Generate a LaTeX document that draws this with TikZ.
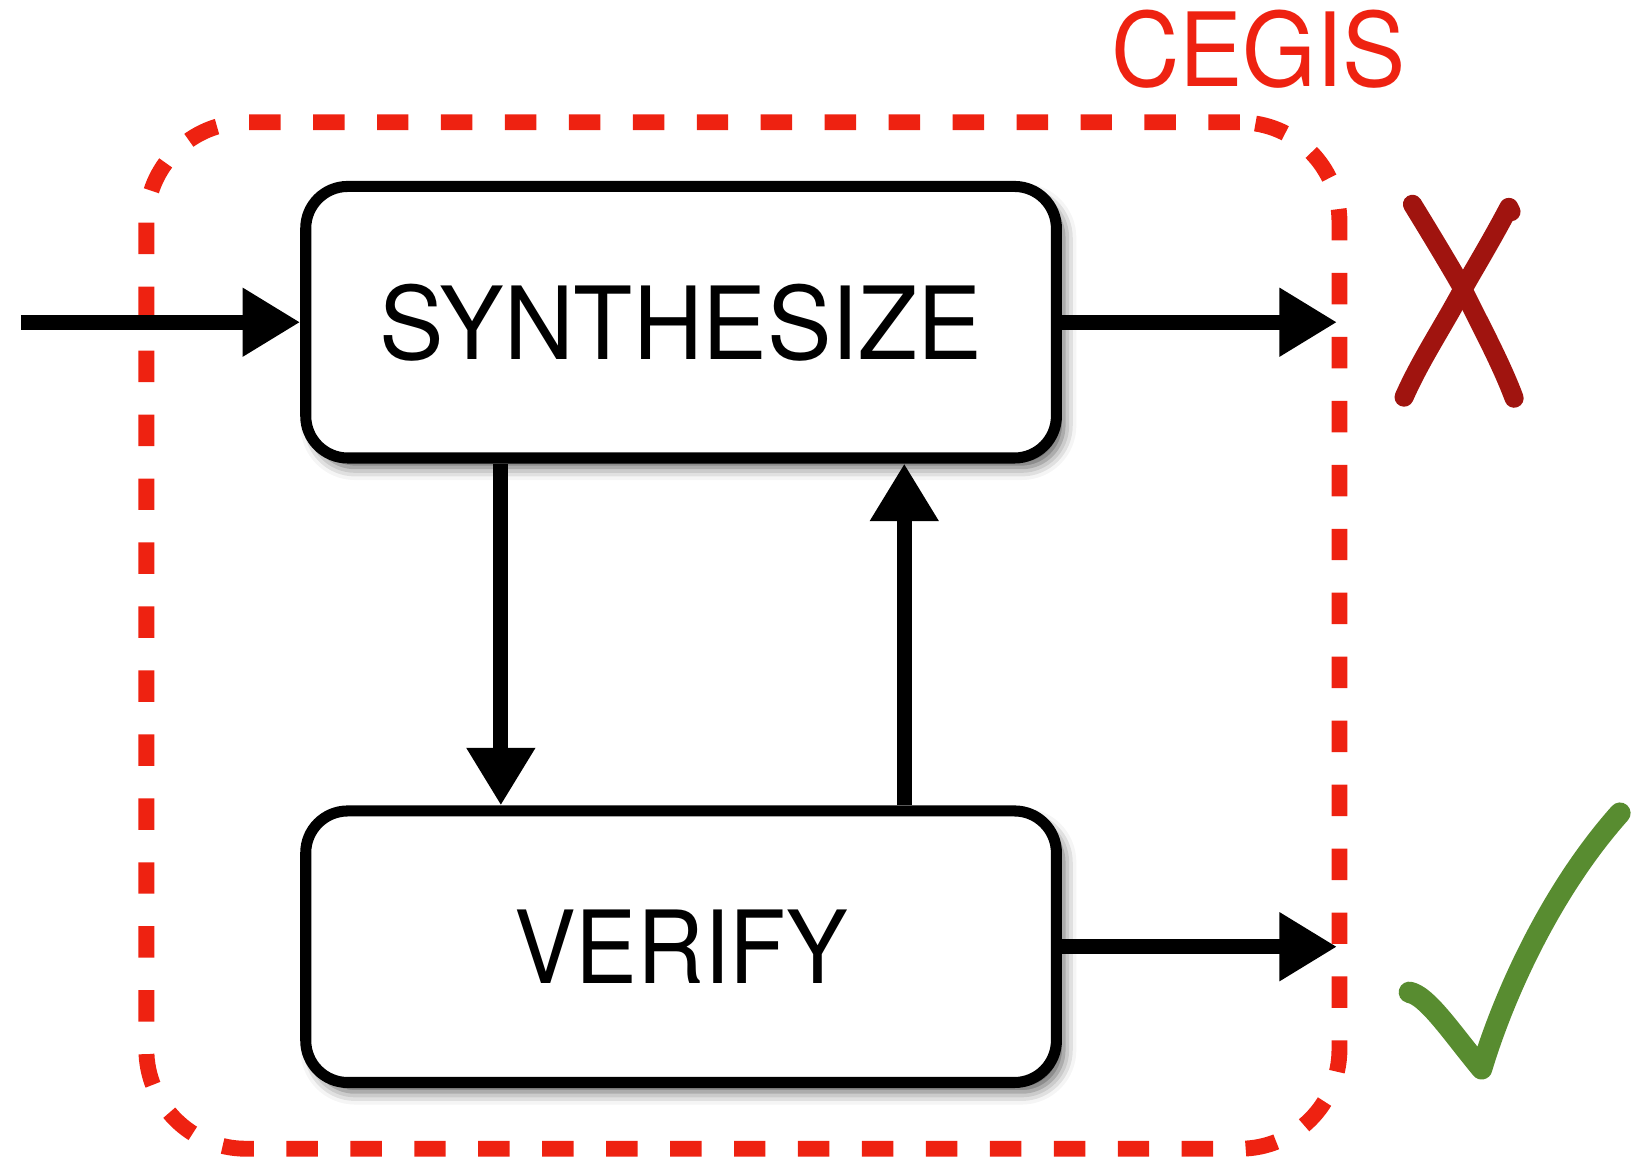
\documentclass[tikz,border=0pt]{standalone}
\usepackage{fontspec}
\setmainfont{TeX Gyre Heros}
\usetikzlibrary{arrows.meta,shadows.blur}
\definecolor{cegisred}{RGB}{238,34,17}
\definecolor{failred}{RGB}{160,20,15}
\definecolor{passgreen}{RGB}{88,140,48}
\newcommand{\stagetext}[2][0.92]{\scalebox{#1}[1]{#2}}
\begin{document}
\begin{tikzpicture}[x=0.01cm,y=-0.01cm,
  stage/.style={draw=black, line width=3pt, fill=white, rounded corners=0.4cm,
    minimum width=7.16cm, minimum height=2.59cm, inner sep=0pt,
    blur shadow={shadow xshift=0.07cm, shadow yshift=-0.09cm,
      shadow blur radius=0.12cm, shadow opacity=65},
    font=\fontsize{27.4}{30}\selectfont},
  flow/.style={line width=4pt, -{Triangle[length=0.55cm,width=0.62cm]}},
  loopbox/.style={draw=cegisred, line width=4.3pt, dash pattern=on 0.3cm off 0.31cm,
    rounded corners=0.95cm, minimum width=11.38cm, minimum height=9.79cm, inner sep=0pt},
  handmark/.style={line width=5.2pt, line cap=round, line join=round},
]
\useasboundingbox (0,0) rectangle (1568,1105);

% CEGIS loop boundary and its title
\node[loopbox] (cegis) at (709,606.5) {};
\node[text=cegisred, font=\fontsize{27.8}{30}\selectfont, inner sep=0pt] (title) at (1201,47) {\stagetext[0.925]{CEGIS}};

% the two stages
\node[stage] (synth) at (650,307.5) {\stagetext[0.958]{SYNTHESIZE}};
\node[stage] (verify) at (650,903.5) {\stagetext[0.915]{VERIFY}};

% free ends of the connectors
\coordinate (in) at (20,307.5);
\coordinate (xout) at (1276,307.5);
\coordinate (okout) at (1276,903.5);
\coordinate (dcol) at (478,0);
\coordinate (ucol) at (863,0);

\draw[flow] (in) -- (synth.west);
\draw[flow] (synth.east) -- (xout);
\draw[flow] (verify.east) -- (okout);
\draw[flow] (synth.south -| dcol) -- (verify.north -| dcol);
\draw[flow] (verify.north -| ucol) -- (synth.south -| ucol);

% failure cross
\draw[handmark, draw=failred] (1348,195) .. controls (1372,234) and (1392,268) .. (1394,272)
  .. controls (1410,305) and (1432,345) .. (1445,380);
\draw[handmark, draw=failred] (1442,202) -- (1440,198) .. controls (1420,236) and (1400,268) .. (1394,280)
  .. controls (1375,315) and (1355,345) .. (1340,379);

% success tick
\draw[handmark, draw=passgreen, line width=5.8pt] (1345,947) .. controls (1362,950) and (1385,985) .. (1414,1020)
  .. controls (1435,950) and (1480,850) .. (1546,776);
\end{tikzpicture}
\end{document}
